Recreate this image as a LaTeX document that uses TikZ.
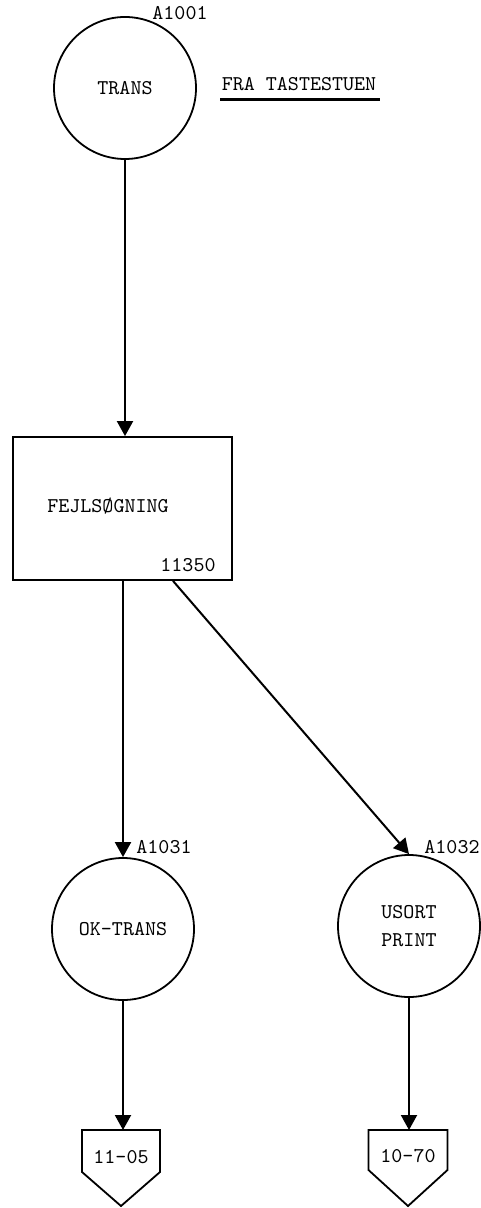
\documentclass[tikz,border=0pt]{standalone}
\usetikzlibrary{arrows.meta}
\begin{document}
\begin{tikzpicture}[x=0.5pt,y=-0.5pt,
  every node/.style={font=\fontsize{10.5}{12}\selectfont\ttfamily},
  conn/.style={line width=1pt,-{Triangle[width=8pt,length=7.5pt]}},
  bubble/.style={draw,circle,line width=0.9pt,minimum size=71pt,inner sep=0pt},
  procbox/.style={draw,rectangle,line width=0.9pt,minimum width=109.5pt,minimum height=71.5pt},
  offpage/.style={line width=0.9pt,line join=miter},
  lbl/.style={inner sep=0pt}]
\useasboundingbox (0,0) rectangle (481,1208);
% top
\node[bubble] (trans) at (125,88) {TRANS};
\node[lbl] (a1001) at (180,13) {A1001};
\node[lbl] (fra) at (299,84) {FRA TASTESTUEN};
\draw[line width=1.5pt] ([yshift=-4pt,xshift=-0.5pt]fra.south west) -- ([yshift=-4pt,xshift=1.5pt]fra.south east);
% box
\node[procbox] (fejl) at (122.5,508.5) {};
\node[lbl] (fejltxt) at (108,506) {FEJLSØGNING};
\node[lbl] (n11350) at (188,565) {11350};
\draw[conn] (trans.south) -- (trans.south |- fejl.north);
% lower circles
\node[bubble] (ok) at (123,929) {OK-TRANS};
\node[lbl] (a1031) at (164,847) {A1031};
\node[bubble,align=center] (usort) at (409,926) {USORT\\[2pt]PRINT};
\node[lbl] (a1032) at (452,847) {A1032};
\draw[conn] (fejl.south -| ok.north) -- (ok.north);
\draw[conn] ([xshift=25.25pt]fejl.south) -- (usort.north);
% off-page connectors
\coordinate (p1) at (121,1130);
\coordinate (p2) at (408,1130);
\draw[offpage] (p1) ++(-39,0) -- ++(78,0) -- ++(0,42) -- ++(-39,34) -- ++(-39,-34) -- cycle;
\draw[offpage] (p2) ++(-39.5,0) -- ++(79,0) -- ++(0,40) -- ++(-39.5,36) -- ++(-39.5,-36) -- cycle;
\node[lbl] (t1105) at (121,1157) {11-05};
\node[lbl] (t1070) at (408,1156) {10-70};
\draw[conn] (ok.south) -- (ok.south |- p1);
\draw[conn] (usort.south) -- (usort.south |- p2);
\end{tikzpicture}
\end{document}
